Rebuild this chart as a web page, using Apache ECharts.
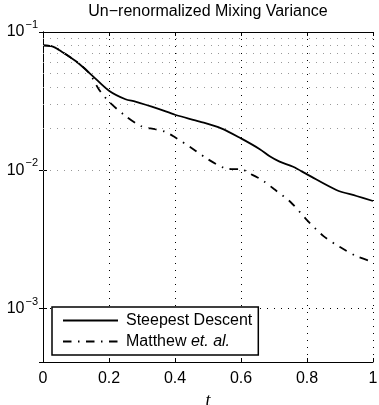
<!DOCTYPE html>
<html lang="en">
<head>
    <meta charset="UTF-8">
    <title>Un-renormalized Mixing Variance</title>
    <script src="https://cdn.jsdelivr.net/npm/echarts@6/dist/echarts.min.js"></script>
    <style>
        html, body { margin: 0; padding: 0; background: #fff; }
        #main { width: 379px; height: 405px; }
    </style>
</head>
<body>
<div id="main"></div>
<script type="text/javascript">
    // values
    var tSteepest = [0, 0.03, 0.05, 0.1, 0.15, 0.2, 0.25, 0.28, 0.35, 0.4, 0.475, 0.54, 0.6, 0.657, 0.687, 0.717, 0.758, 0.803, 0.889, 0.95, 1.0];
    var vSteepest = [0.080, 0.0785, 0.0738, 0.0614, 0.0482, 0.0376, 0.0326, 0.0314, 0.0278, 0.0252, 0.0225, 0.0201, 0.0170, 0.0142, 0.0126, 0.01153, 0.0106, 0.00925, 0.00720, 0.00651, 0.00599];

    var tMatthew = [0, 0.03, 0.05, 0.1, 0.14, 0.17, 0.2, 0.25, 0.3, 0.34, 0.37, 0.4, 0.45, 0.5, 0.55, 0.57, 0.6, 0.625, 0.65, 0.67, 0.7, 0.75, 0.8, 0.85, 0.9, 0.95, 1.0];
    var vMatthew = [0.080, 0.0785, 0.0738, 0.0614, 0.0505, 0.0382, 0.0313, 0.0247, 0.0207, 0.0198, 0.0190, 0.0173, 0.0145, 0.0120, 0.01035, 0.0102, 0.0102, 0.0095, 0.00887, 0.0083, 0.00731, 0.00589, 0.00436, 0.00334, 0.00278, 0.00239, 0.00217];

    var seriesNames = ['Steepest Descent', 'Matthew et. al.'];
    var xTicks = [0, 0.2, 0.4, 0.6, 0.8, 1];
    var yMin = 4.1e-4, yMax = 0.1;
    // minor log grid lines (2..9 in each decade)
    var yMinor = [5e-4, 6e-4, 7e-4, 8e-4, 9e-4,
        2e-3, 3e-3, 4e-3, 5e-3, 6e-3, 7e-3, 8e-3, 9e-3,
        2e-2, 3e-2, 4e-2, 5e-2, 6e-2, 7e-2, 8e-2, 9e-2];

    function pairs(xs, ys) {
        return xs.map(function (x, i) { return [x, ys[i]]; });
    }

    var font = 'Liberation Sans, Arial, Helvetica, sans-serif';
    var myChart = echarts.init(document.getElementById('main'), null, {renderer: 'canvas'});

    var option = {
        animation: false,
        backgroundColor: '#fff',
        title: {
            text: 'Un\u2212renormalized Mixing Variance',
            left: 208,
            textAlign: 'center',
            top: 4,
            padding: 0,
            textStyle: {fontFamily: font, fontSize: 16, fontWeight: 'normal', color: '#000'}
        },
        grid: {left: 43, right: 6, top: 32, bottom: 43, containLabel: false, outerBoundsMode: 'none'},
        legend: {
            orient: 'vertical',
            left: 52,
            top: 307,
            padding: [4, 6, 4, 10],
            itemGap: 2,
            itemWidth: 55,
            itemHeight: 16,
            backgroundColor: '#fff',
            borderColor: '#000',
            borderWidth: 1.5,
            borderRadius: 0,
            itemStyle: {opacity: 0},
            data: seriesNames,
            formatter: function (name) {
                if (name === 'Matthew et. al.') return 'Matthew {it|et. al.}';
                return name;
            },
            textStyle: {
                fontFamily: font, fontSize: 16, color: '#000', lineHeight: 19, padding: [0, 0, 0, 3],
                rich: {it: {fontFamily: font, fontSize: 16, fontStyle: 'italic', color: '#000'}}
            }
        },
        xAxis: [{
            type: 'value',
            min: xTicks[0],
            max: xTicks[xTicks.length - 1],
            interval: 0.2,
            name: 't',
            nameLocation: 'middle',
            nameGap: 25,
            nameTextStyle: {fontFamily: 'Liberation Serif, DejaVu Serif, serif', fontStyle: 'italic', fontSize: 18, color: '#000'},
            axisLine: {show: true, onZero: false, lineStyle: {color: '#000', width: 1}},
            axisTick: {show: true, inside: true, length: 4, lineStyle: {color: '#000'}},
            axisLabel: {margin: 9, fontFamily: font, fontSize: 16, color: '#000'},
            splitLine: {show: true, lineStyle: {color: '#000', type: [1, 6], width: 1}}
        }, {
            type: 'value',
            position: 'top',
            min: xTicks[0],
            max: xTicks[xTicks.length - 1],
            interval: 0.2,
            axisLine: {show: true, onZero: false, lineStyle: {color: '#000', width: 1}},
            axisTick: {show: true, inside: true, length: 4, lineStyle: {color: '#000'}},
            axisLabel: {show: false},
            splitLine: {show: false}
        }],
        yAxis: [{
            type: 'log',
            logBase: 10,
            min: yMin,
            max: yMax,
            axisLine: {show: true, lineStyle: {color: '#000', width: 1}},
            axisTick: {show: true, inside: true, length: 4, lineStyle: {color: '#000'}},
            axisLabel: {
                margin: 5,
                fontFamily: font,
                fontSize: 16,
                color: '#000',
                formatter: function (v) {
                    var e = Math.log10(v);
                    if (Math.abs(e - Math.round(e)) > 1e-6) return '';
                    e = Math.round(e);
                    return '10{sup|' + (e < 0 ? '\u2212' + (-e) : e) + '}';
                },
                rich: {
                    sup: {fontFamily: font, fontSize: 11, color: '#000', padding: [0, 0, 14, 1]}
                }
            },
            splitLine: {show: true, lineStyle: {color: '#000', type: [1, 6], width: 1}}
        }, {
            type: 'log',
            logBase: 10,
            min: yMin,
            max: yMax,
            position: 'right',
            axisLine: {show: true, lineStyle: {color: '#000', width: 1}},
            axisTick: {show: true, inside: true, length: 4, lineStyle: {color: '#000'}},
            axisLabel: {show: false},
            splitLine: {show: false}
        }],
        series: [{
            name: seriesNames[0],
            type: 'line',
            smooth: 0.3,
            showSymbol: false,
            data: pairs(tSteepest, vSteepest),
            lineStyle: {color: '#000', width: 1.8, type: 'solid'},
            itemStyle: {color: '#000'},
            markLine: {
                silent: true,
                symbol: 'none',
                animation: false,
                label: {show: false},
                lineStyle: {color: '#999', type: [1, 6], width: 1},
                data: yMinor.map(function (v) { return {yAxis: v}; })
            },
            z: 3
        }, {
            name: seriesNames[1],
            type: 'line',
            smooth: 0.3,
            showSymbol: false,
            data: pairs(tMatthew, vMatthew),
            lineStyle: {color: '#000', width: 1.8, type: [8.5, 6.5, 1.5, 6.5]},
            itemStyle: {color: '#000'},
            z: 3
        }]
    };
    myChart.setOption(option);
</script>
</body>
</html>
